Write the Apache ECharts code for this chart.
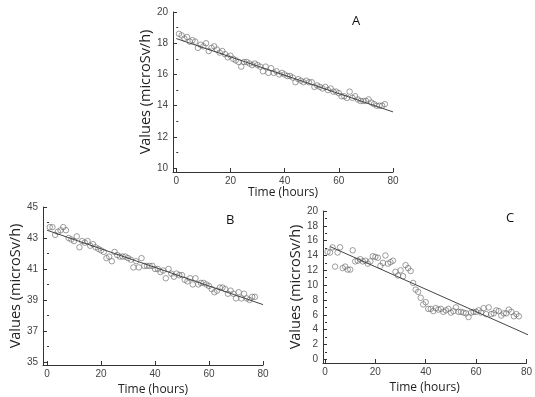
<!DOCTYPE html>
<html><head><meta charset="utf-8">
<script src="https://cdn.jsdelivr.net/npm/echarts@6/dist/echarts.min.js"></script>
<style>html,body{margin:0;padding:0;background:#fff}#c{width:535px;height:397px}</style>
</head><body><div id="c"></div>
<script>
var hours = [];
for (var h = 1; h <= 77; h++) hours.push(h);

var valuesA = [18.6,18.5,18.3,18.4,18.1,18.2,18.1,17.7,17.9,17.8,18.0,17.5,17.7,17.8,17.6,17.4,17.5,17.3,17.1,17.2,
17.0,16.9,16.8,16.5,16.8,16.8,16.7,16.6,16.7,16.6,16.5,16.2,16.5,16.1,16.4,16.1,16.2,16.0,16.1,16.0,
15.9,15.9,15.8,15.5,15.7,15.6,15.5,15.6,15.5,15.5,15.2,15.3,15.2,15.1,15.2,15.0,15.1,14.9,14.9,14.8,
14.6,14.6,14.5,14.9,14.5,14.6,14.4,14.3,14.3,14.3,14.4,14.2,14.1,14.0,14.0,14.0,14.1];
var fitA = [[0, 18.3], [80, 13.6]];

var valuesB = [43.7,43.7,43.2,43.4,43.5,43.7,43.5,43.0,42.9,42.8,43.1,42.4,42.8,42.7,42.8,42.5,42.6,42.4,42.3,42.2,
42.1,41.7,41.8,41.5,42.1,41.9,41.8,41.8,41.8,41.7,41.6,41.1,41.5,41.1,41.7,41.2,41.2,41.2,41.2,41.0,
41.0,40.8,40.9,40.4,41.0,40.7,40.5,40.7,40.6,40.6,40.3,40.2,40.4,40.0,40.4,40.0,40.1,40.1,40.0,39.9,
39.7,39.5,39.6,39.8,39.8,39.7,39.4,39.6,39.4,39.1,39.5,39.1,39.4,39.1,39.0,39.2,39.2];
var fitB = [[0, 43.5], [80, 38.7]];

var valuesC = [14.5,14.4,15.1,12.5,14.4,15.1,12.3,12.5,12.1,12.1,14.7,13.2,13.3,13.5,13.2,13.3,12.9,13.2,13.9,13.8,
13.7,12.6,13.0,14.0,12.9,13.1,13.3,11.8,11.3,12.0,11.2,12.7,12.3,11.9,10.3,9.4,9.1,8.3,7.4,7.7,
6.8,6.8,6.5,6.9,6.7,6.8,6.4,6.6,6.8,6.3,6.5,7.0,6.4,6.4,6.3,6.2,5.7,6.3,6.4,6.4,
6.6,6.3,6.9,6.1,7.0,6.1,6.2,6.6,6.5,5.9,6.2,6.2,6.7,6.4,5.8,6.1,5.8];
var fitC = [[2, 15.2], [82, 3.1]];

var xTicks = [0, 20, 40, 60, 80];
var yTicksA = [10, 12, 14, 16, 18, 20];
var yMinorA = [11, 13, 15, 17, 19];
var yTicksB = [35, 37, 39, 41, 43, 45];
var yMinorB = [36, 38, 40, 42, 44];
var yTicksC = [0, 2, 4, 6, 8, 10, 12, 14, 16, 18, 20];
var yMinorC = [1, 3, 5, 7, 9, 11, 13, 15, 17, 19];
var panelLetters = ['A', 'B', 'C'];
var xTitle = 'Time (hours)';
var yTitle = 'Values (microSv/h)';

var FONT = 'Liberation Sans, Arial, sans-serif';
var TITLEFONT = 'Open Sans, sans-serif';
var axisCol = '#333';
var lblCol = '#444';

var panels = [
  {grid: {left: 173, top: 12, width: 220, height: 160}, xmin: -1.2, xmax: 80, ymin: 9.75, ymax: 20,
   yt: yTicksA, ym: yMinorA, vals: valuesA, fit: fitA, xGap: 15},
  {grid: {left: 43, top: 207, width: 220, height: 158}, xmin: -1.5, xmax: 80, ymin: 34.8, ymax: 45,
   yt: yTicksB, ym: yMinorB, vals: valuesB, fit: fitB, xGap: 19},
  {grid: {left: 323, top: 211, width: 210, height: 152}, xmin: -0.8, xmax: 80, ymin: -0.5, ymax: 20,
   yt: yTicksC, ym: yMinorC, vals: valuesC, fit: fitC, xGap: 19}
];

var grids = [], xAxes = [], yAxes = [], series = [], graphics = [];
panels.forEach(function (p, i) {
  grids.push(p.grid);
  xAxes.push({
    type: 'value', gridIndex: i, min: p.xmin, max: p.xmax,
    name: xTitle, nameLocation: 'middle', nameGap: p.xGap,
    nameTextStyle: {fontFamily: TITLEFONT, fontSize: 12, color: '#222'},
    axisLine: {show: true, onZero: false, lineStyle: {color: axisCol, width: 1}},
    axisTick: {show: true, inside: true, length: 4, customValues: xTicks, lineStyle: {color: axisCol}},
    axisLabel: {customValues: xTicks, fontFamily: FONT, fontSize: 10, color: lblCol, margin: 4},
    splitLine: {show: false}
  });
  yAxes.push({
    type: 'value', gridIndex: i, min: p.ymin, max: p.ymax,
    name: yTitle, nameLocation: 'middle', nameGap: 20,
    nameTextStyle: {fontFamily: TITLEFONT, fontSize: 14.5, color: '#222'},
    axisLine: {show: true, onZero: false, lineStyle: {color: axisCol, width: 1}},
    axisTick: {show: true, inside: true, length: 4, customValues: p.yt, lineStyle: {color: axisCol}},
    axisLabel: {customValues: p.yt, fontFamily: FONT, fontSize: 10, color: lblCol, margin: 5},
    splitLine: {show: false}
  });
  yAxes.push({
    type: 'value', gridIndex: i, min: p.ymin, max: p.ymax, position: 'left',
    axisLine: {show: false},
    axisTick: {show: true, inside: true, length: 2, customValues: p.ym, lineStyle: {color: axisCol}},
    axisLabel: {show: false}, splitLine: {show: false}
  });
  var pts = hours.map(function (h, k) { return [h, p.vals[k]]; });
  series.push({
    type: 'scatter', xAxisIndex: i, yAxisIndex: 2 * i, data: pts,
    symbol: 'circle', symbolSize: 5.5,
    itemStyle: {color: 'rgba(255,255,255,0)', borderColor: '#666', borderWidth: 0.8},
    silent: true
  });
  series.push({
    type: 'line', xAxisIndex: i, yAxisIndex: 2 * i, data: p.fit, clip: false,
    showSymbol: false, lineStyle: {color: '#444', width: 1}, silent: true
  });
});

graphics.push({type: 'text', left: 352, top: 15, style: {text: panelLetters[0], font: '13px ' + TITLEFONT, fill: '#111'}});
graphics.push({type: 'text', left: 226, top: 214, style: {text: panelLetters[1], font: '13px ' + TITLEFONT, fill: '#111'}});
graphics.push({type: 'text', left: 506, top: 212, style: {text: panelLetters[2], font: '13px ' + TITLEFONT, fill: '#111'}});

var chart = echarts.init(document.getElementById('c'), null, {renderer: 'canvas'});
chart.setOption({
  animation: false,
  backgroundColor: '#fff',
  grid: grids, xAxis: xAxes, yAxis: yAxes, series: series, graphic: graphics
});
</script></body></html>
